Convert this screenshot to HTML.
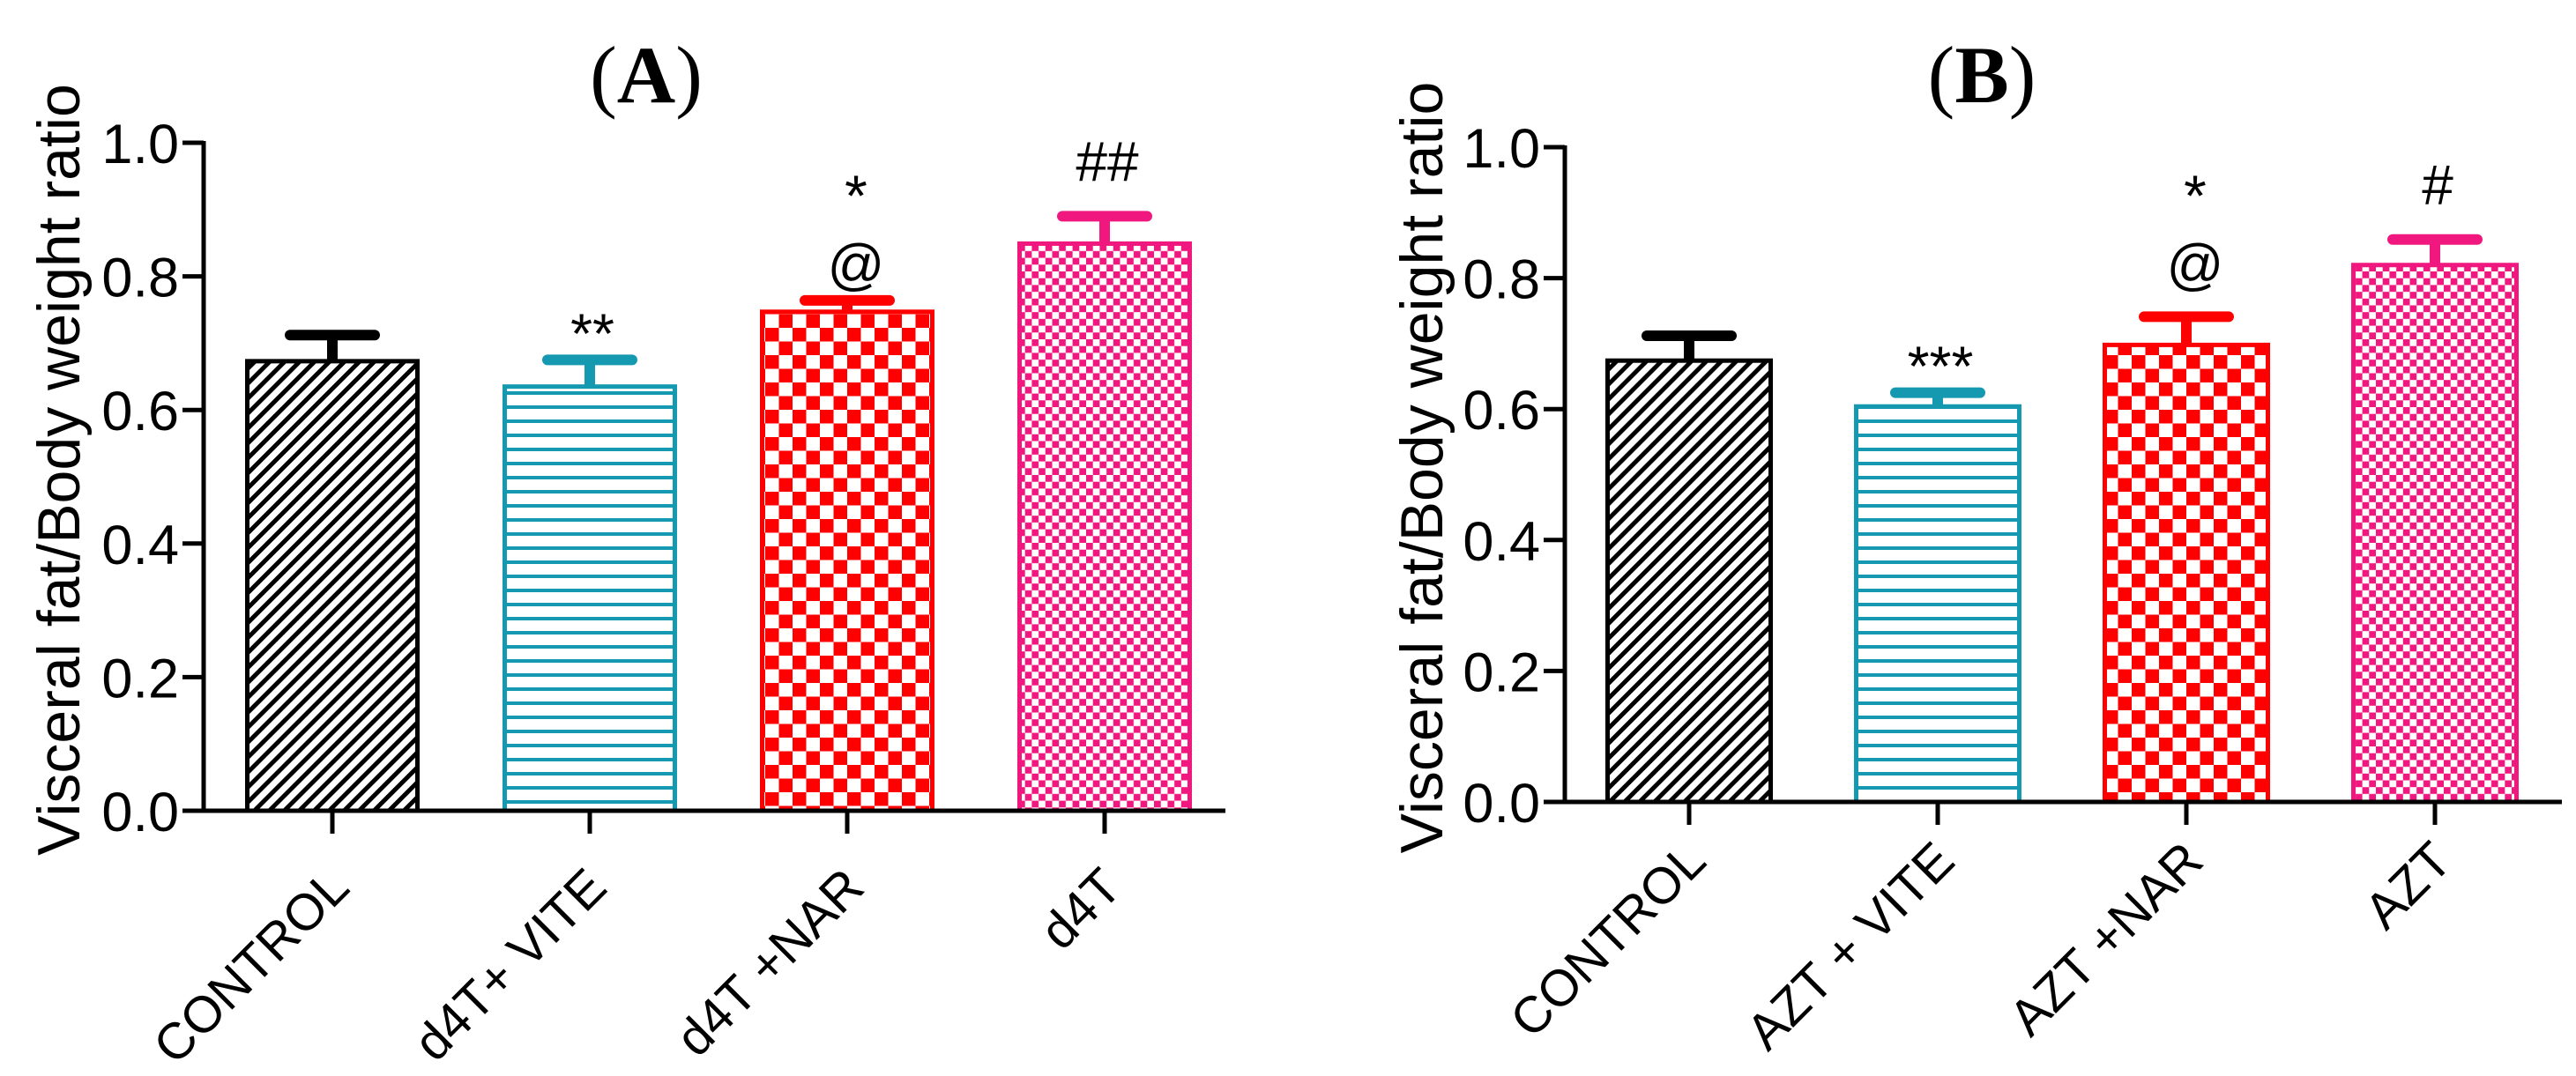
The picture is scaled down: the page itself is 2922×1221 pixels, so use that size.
<!DOCTYPE html>
<html><head><meta charset="utf-8">
<style>
html,body{margin:0;padding:0;background:#fff;}
svg{display:block;font-family:"Liberation Sans",Arial,sans-serif;}
</style></head>
<body>
<svg id="chart" width="2922" height="1221" viewBox="0 0 2922 1221" xmlns="http://www.w3.org/2000/svg">
<defs>
  <pattern id="hatch" patternUnits="userSpaceOnUse" width="12" height="12" patternTransform="rotate(45)">
    <rect width="12" height="12" fill="#fff"/>
    <rect x="0" y="0" width="5" height="12" fill="#000"/>
  </pattern>
  <pattern id="hlines" patternUnits="userSpaceOnUse" width="20" height="16">
    <rect width="20" height="16" fill="#fff"/>
    <rect x="0" y="12" width="20" height="4" fill="#1499b0"/>
  </pattern>
  <pattern id="check" patternUnits="userSpaceOnUse" width="31" height="31">
    <rect width="31" height="31" fill="#fff"/>
    <rect x="0" y="0" width="15.5" height="15.5" fill="#ff0000"/>
    <rect x="15.5" y="15.5" width="15.5" height="15.5" fill="#ff0000"/>
  </pattern>
  <pattern id="fine" patternUnits="userSpaceOnUse" width="15.4" height="15.4">
    <rect width="15.4" height="15.4" fill="#fff"/>
    <rect x="0" y="0" width="7.7" height="7.7" fill="#f0177f"/>
    <rect x="7.7" y="7.7" width="7.7" height="7.7" fill="#f0177f"/>
  </pattern>
</defs>
</svg>
<script>
const categoriesA = ["CONTROL","d4T+ VITE","d4T +NAR","d4T"];
const meansA = [0.673, 0.635, 0.747, 0.849];
const errorsA = [0.039, 0.040, 0.017, 0.041];
const annotA = ["", "**", "*|@", "##"];
const categoriesB = ["CONTROL","AZT + VITE","AZT +NAR","AZT"];
const meansB = [0.674, 0.604, 0.698, 0.820];
const errorsB = [0.038, 0.021, 0.043, 0.039];
const annotB = ["", "***", "*|@", "#"];
const yTicks = [0.0, 0.2, 0.4, 0.6, 0.8, 1.0];
const yTickLabels = ["0.0","0.2","0.4","0.6","0.8","1.0"];

const NS = "http://www.w3.org/2000/svg";
const svg = document.getElementById("chart");
const fills = ["url(#hatch)","url(#hlines)","url(#check)","url(#fine)"];
const strokes = ["#000","#1499b0","#ff0000","#f0177f"];

function el(tag, attrs, parent){
  const e = document.createElementNS(NS, tag);
  for (const k in attrs) e.setAttribute(k, attrs[k]);
  (parent||svg).appendChild(e);
  return e;
}

function panel(cfg){
  const g = el("g", {});
  
  
  const y = v => cfg.y0 - v * (cfg.y0 - cfg.y1);
  const x = i => cfg.firstX + i * cfg.step;

  const t = el("text", {x: cfg.titleX, y: 116, "text-anchor":"middle", "font-family":"'Liberation Serif',serif", "font-size":92}, g);
  t.innerHTML = '(<tspan font-weight="bold">' + cfg.letter + '</tspan>)';
  
  

  const yl = el("text", {x: 0, y: 0, "text-anchor":"middle", "font-size":68, transform:"translate("+(cfg.ylabelX)+","+((cfg.y0+cfg.y1)/2-8)+") rotate(-90)"}, g);
  yl.textContent = "Visceral fat/Body weight ratio";
  
  

  cfg.means.forEach((m, i) => {
    const cx = x(i);
    const top = y(m), et = y(m + cfg.errs[i]);
    const stem = el("line", {x1:cx, x2:cx, y1:top, y2:et, stroke:strokes[i], "stroke-width":12}, g);
    
    
    const cap = el("line", {x1:cx-48, x2:cx+48, y1:et, y2:et, stroke:strokes[i], "stroke-width":12, "stroke-linecap":"round"}, g);
    
    
    const r = el("rect", {x:cx-cfg.bw/2+2.5, y:top, width:cfg.bw-5, height:cfg.y0-top, fill:fills[i], stroke:strokes[i], "stroke-width":5}, g);
    
    

    const ann = cfg.annot[i];
    if (ann) {
      const parts = ann.split("|");
      if (parts.length === 2) {
        const a1 = el("text", {x:cx+10, y:245, "text-anchor":"middle", "font-size":66}, g);
        a1.textContent = parts[0];
        
        
        const a2 = el("text", {x:cx+10, y:322, "text-anchor":"middle", "font-size":64}, g);
        a2.textContent = parts[1];
        
        
      } else {
        const isStar = parts[0].indexOf("*") >= 0;
        const a = el("text", {x:cx+3, y: et - (isStar ? 8 : 40), "text-anchor":"middle", "font-size":64}, g);
        a.textContent = parts[0];
        
        
      }
    }

    const tk = el("line", {x1:cx, x2:cx, y1:cfg.y0, y2:cfg.y0+26, stroke:"#000", "stroke-width":5}, g);
    
    
    const lb = el("text", {x:0, y:0, "text-anchor":"end", "font-size":58, transform:"translate("+(cx+22)+","+(cfg.y0+cfg.labelDy)+") rotate(-45)"}, g);
    lb.textContent = cfg.cats[i];
    
    
  });

  const ya = el("line", {x1:cfg.axisX, x2:cfg.axisX, y1:cfg.y1-2, y2:cfg.y0+2, stroke:"#000", "stroke-width":5}, g);
  
  
  const xa = el("line", {x1:cfg.axisX-24, x2:cfg.xEnd, y1:cfg.y0, y2:cfg.y0, stroke:"#000", "stroke-width":5}, g);
  
  
  yTicks.forEach((v, k) => {
    const tl = el("line", {x1:cfg.axisX-24, x2:cfg.axisX, y1:y(v), y2:y(v), stroke:"#000", "stroke-width":5}, g);
    
    
    const tt = el("text", {x:cfg.axisX-28, y:y(v)+23, "text-anchor":"end", "font-size":63}, g);
    tt.textContent = yTickLabels[k];
    
    
  });
}

panel({name:"panel-a", letter:"A", titleX:733, ylabelX:90, axisX:231, xEnd:1390, y0:920, y1:162, labelDy:90,
  firstX:377, step:292, bw:198, cats:categoriesA, means:meansA, errs:errorsA, annot:annotA});
panel({name:"panel-b", letter:"B", titleX:2248, ylabelX:1636, axisX:1775, xEnd:2906, y0:910, y1:167, labelDy:70,
  firstX:1916, step:282, bw:190, cats:categoriesB, means:meansB, errs:errorsB, annot:annotB});
</script>
</body></html>
